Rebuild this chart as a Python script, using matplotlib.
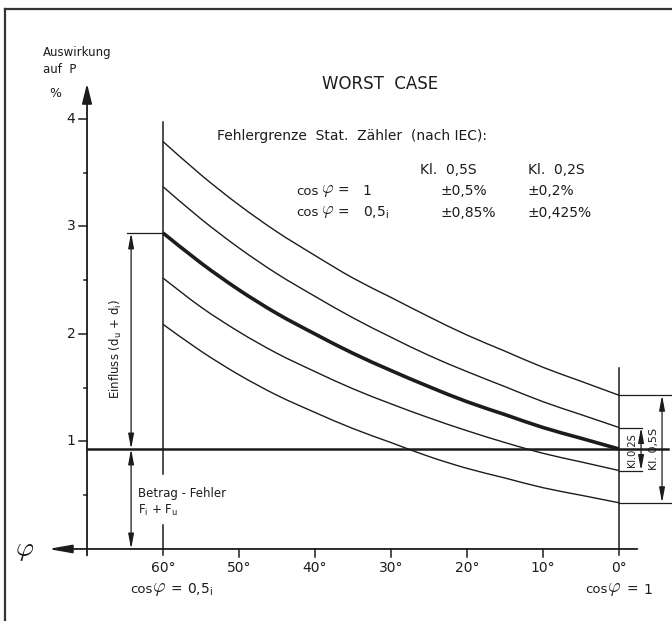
import matplotlib
matplotlib.use("Agg")
import matplotlib.pyplot as plt
from matplotlib.lines import Line2D
from matplotlib.path import Path
from matplotlib.patches import PathPatch

plt.rcParams['font.family'] = ['DejaVu Sans']

# phase angle (deg) and effect on P (%)
angles = [60, 55, 50, 45, 40, 35, 30, 25, 20, 15, 10, 5, 0]
center = [2.94, 2.66, 2.41, 2.19, 2.00, 1.82, 1.66, 1.51, 1.37, 1.25, 1.13, 1.03, 0.93]
top_05 = [3.79, 3.48, 3.20, 2.95, 2.73, 2.52, 2.34, 2.16, 1.99, 1.84, 1.69, 1.56, 1.43]
top_02 = [3.37, 3.07, 2.80, 2.56, 2.35, 2.15, 1.97, 1.80, 1.65, 1.51, 1.37, 1.25, 1.13]
low_02 = [2.52, 2.25, 2.02, 1.82, 1.65, 1.49, 1.35, 1.22, 1.10, 0.99, 0.89, 0.81, 0.73]
low_05 = [2.09, 1.84, 1.62, 1.43, 1.27, 1.12, 0.99, 0.86, 0.75, 0.66, 0.57, 0.50, 0.43]

betrag = 0.93          # Betrag-Fehler level
yticks = [1, 2, 3, 4]
xticks = [50, 40, 30, 20, 10]

K = '#1c1c1c'

fig = plt.figure(figsize=(6.72, 6.21), dpi=100)
ax = fig.add_axes([0, 0, 1, 1])
ax.set_xlim(81.45, -6.97)
ax.set_ylim(-0.67, 5.107)
ax.axis('off')


def smooth(xs, ys, lw):
    # bezier through the read points (catmull-rom handles)
    verts = [(xs[0], ys[0])]
    codes = [Path.MOVETO]
    n = len(xs)
    for i in range(n - 1):
        x0, y0 = (xs[i - 1], ys[i - 1]) if i > 0 else (xs[i], ys[i])
        x3, y3 = (xs[i + 2], ys[i + 2]) if i + 2 < n else (xs[i + 1], ys[i + 1])
        c1 = (xs[i] + (xs[i + 1] - x0) / 6, ys[i] + (ys[i + 1] - y0) / 6)
        c2 = (xs[i + 1] - (x3 - xs[i]) / 6, ys[i + 1] - (y3 - ys[i]) / 6)
        verts += [c1, c2, (xs[i + 1], ys[i + 1])]
        codes += [Path.CURVE4] * 3
    ax.add_patch(PathPatch(Path(verts, codes), fill=False, ec=K, lw=lw,
                           capstyle='butt'))


def phi(x, y, size):
    ax.text(x, y, r'$\varphi$', ha='center', va='center', fontsize=size, color=K,
            math_fontfamily='cm')


def txt(x, y, s, size=10, **kw):
    kw.setdefault('ha', 'left')
    kw.setdefault('va', 'center')
    ax.text(x, y, s, fontsize=size, color=K, **kw)


# frame (top and left edges only visible)
fig.add_artist(Line2D([5/672, 1], [1-9/621, 1-9/621], color='#333', lw=1.6))
fig.add_artist(Line2D([5/672, 5/672], [0, 1-9/621], color='#333', lw=1.6))

# axes with arrows
ax.annotate('', xy=(70, 4.33), xytext=(70, -0.06),
            arrowprops=dict(arrowstyle='-|>,head_length=1.2,head_width=0.3',
                            color=K, lw=1.3, shrinkA=0, shrinkB=0))
ax.annotate('', xy=(75.1, 0), xytext=(-2.4, 0),
            arrowprops=dict(arrowstyle='-|>,head_length=1.4,head_width=0.25',
                            color=K, lw=1.3, shrinkA=0, shrinkB=0))

for v in yticks:
    ax.plot([70, 71.05], [v, v], color=K, lw=1.1)
    txt(72.1, v, str(v), ha='center')
for v in [0.5, 1.5, 2.5, 3.5]:
    ax.plot([70, 70.45], [v, v], color=K, lw=1.1)
for d in xticks:
    ax.plot([d, d], [0, -0.075], color=K, lw=1.1)
    txt(d, -0.177, '%d°' % d, ha='center')
txt(60, -0.177, '60°', ha='center')
txt(0, -0.177, '0°', ha='center')

# verticals at 60° and 0°
ax.plot([60, 60], [3.97, 0.70], color=K, lw=1.1)
ax.plot([60, 60], [0.22, -0.056], color=K, lw=1.1)
ax.plot([0, 0], [1.68, -0.056], color=K, lw=1.1)

# curves
for s in [top_05, top_02, low_02, low_05]:
    smooth(angles, s, 1.0)
smooth(angles, center, 2.6)
ax.plot([70, -6.45], [betrag, betrag], color=K, lw=1.8)

# left dimension arrows
ax.plot([64.7, 60], [center[0], center[0]], color=K, lw=0.9)
dim = dict(arrowstyle='<|-|>,head_length=0.9,head_width=0.17', color=K, lw=0.9,
           shrinkA=0, shrinkB=0)
ax.annotate('', xy=(64.2, center[0]), xytext=(64.2, betrag), arrowprops=dim)
ax.annotate('', xy=(64.2, betrag), xytext=(64.2, 0), arrowprops=dim)
txt(66.2, 1.86, r'Einfluss (d$_\mathregular{u}$ + d$_\mathregular{i}$)', 8.5,
    rotation=90, ha='center')
txt(63.3, 0.52, 'Betrag - Fehler', 8.5)
txt(63.3, 0.36, r'F$_\mathregular{i}$ + F$_\mathregular{u}$', 8.5)

# right dimension arrows
for v in [top_02[-1], low_02[-1]]:
    ax.plot([0, -3.0], [v, v], color=K, lw=0.9)
for v in [top_05[-1], low_05[-1]]:
    ax.plot([0, -7.0], [v, v], color=K, lw=0.9)
ax.annotate('', xy=(-2.9, top_02[-1]), xytext=(-2.9, low_02[-1]), arrowprops=dim)
ax.annotate('', xy=(-5.66, top_05[-1]), xytext=(-5.66, low_05[-1]), arrowprops=dim)
txt(-1.65, 0.92, 'Kl.0,2S', 7, rotation=90, ha='center')
txt(-4.6, 0.93, 'Kl. 0,5S', 8, rotation=90, ha='center')

# axis labels
txt(75.8, 4.62, 'Auswirkung', 8.5)
txt(75.8, 4.46, 'auf  P', 8.5)
txt(74.2, 4.24, '%', 9, ha='center')
phi(78.2, 0.0, 20)

txt(64.3, -0.38, 'cos', 9.5)
phi(60.5, -0.37, 14)
txt(58.2, -0.38, '=', ha='center')
txt(56.8, -0.38, r'0,5$_\mathregular{i}$')
txt(4.5, -0.38, 'cos', 9.5)
phi(0.7, -0.37, 14)
txt(-1.7, -0.38, '=', ha='center')
txt(-3.8, -0.38, '1', ha='center')

# header and table
txt(39.1, 4.33, 'WORST  CASE', 12)
txt(52.9, 3.84, 'Fehlergrenze  Stat.  Zähler  (nach IEC):')
txt(22.5, 3.53, 'Kl.  0,5S', ha='center')
txt(8.2, 3.53, 'Kl.  0,2S', ha='center')
for y, val, e05, e02 in [(3.33, '1', '±0,5%', '±0,2%'),
                         (3.13, r'0,5$_\mathregular{i}$', '±0,85%', '±0,425%')]:
    txt(42.5, y, 'cos', 9.5)
    phi(38.4, y + 0.01, 13)
    txt(36.3, y, '=', ha='center')
    txt(33.7, y, val)
    txt(23.5, y, e05)
    txt(12.1, y, e02)

fig.savefig('out.png', dpi=100, facecolor='white')
